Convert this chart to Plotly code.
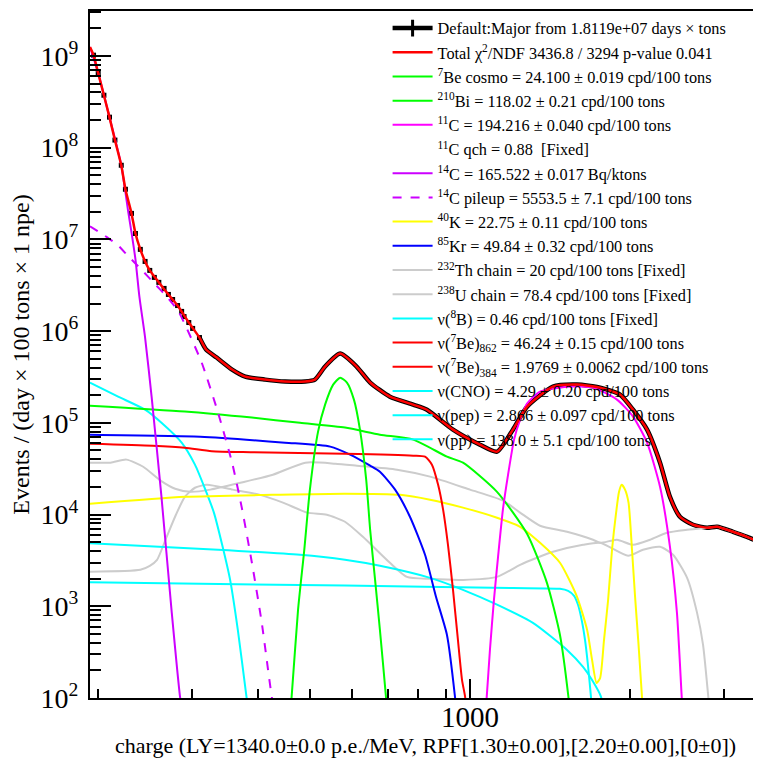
import plotly.graph_objects as go

# ---------------- data ----------------
data_sparse_x = [196, 200, 205, 210, 215, 221, 225, 231, 235, 240, 245, 250, 255, 260, 266, 271, 276, 282, 287, 290, 296, 301, 310]
data_sparse_y = [1.02e9, 6.49e8, 3.73e8, 2.15e8, 1.21e8, 6.43e7, 3.52e7, 1.92e7, 1.16e7, 7.78e6, 5.75e6, 4.59e6, 3.85e6, 3.40e6, 2.92e6, 2.51e6, 2.21e6, 1.90e6, 1.64e6, 1.44e6, 1.24e6, 1.07e6, 8.51e5]
data_band_x = [310, 319, 334, 357, 378, 412, 449, 490, 511, 534, 570, 612, 649, 707, 782, 830, 929, 1044, 1124, 1204, 1280, 1432, 1589, 1756, 1914, 2025, 2152, 2276, 2376, 2481, 2626, 2790, 2913, 3122, 3317, 3524]
data_band_y = [8.51e5, 6.30e5, 5.15e5, 3.81e5, 3.19e5, 2.96e5, 2.82e5, 2.82e5, 2.96e5, 4.11e5, 5.69e5, 4.11e5, 2.75e5, 1.93e5, 1.58e5, 1.39e5, 8.43e4, 5.78e4, 4.85e4, 8.43e4, 1.50e5, 2.48e5, 2.61e5, 2.42e5, 2.03e5, 1.39e5, 8.43e4, 3.68e4, 1.56e4, 9.46e3, 7.74e3, 7.18e3, 7.36e3, 6.49e3, 5.72e3, 4.92e3]

total_x = [193, 196, 200, 205, 210, 215, 221, 225, 231, 235, 240, 245, 250, 260, 271, 282, 296, 310, 319, 334, 357, 378, 412, 449, 490, 511, 534, 570, 612, 649, 707, 782, 830, 929, 1044, 1124, 1204, 1280, 1432, 1589, 1756, 1914, 2025, 2152, 2276, 2376, 2481, 2626, 2790, 2913, 3122, 3317, 3524]
total_y = [1.25e9, 1.02e9, 6.49e8, 3.73e8, 2.15e8, 1.21e8, 6.43e7, 3.52e7, 1.92e7, 1.16e7, 7.78e6, 5.75e6, 4.59e6, 3.40e6, 2.51e6, 1.90e6, 1.24e6, 8.51e5, 6.30e5, 5.15e5, 3.81e5, 3.19e5, 2.96e5, 2.82e5, 2.82e5, 2.96e5, 4.11e5, 5.69e5, 4.11e5, 2.75e5, 1.93e5, 1.58e5, 1.39e5, 8.43e4, 5.78e4, 4.85e4, 8.43e4, 1.50e5, 2.48e5, 2.61e5, 2.42e5, 2.03e5, 1.39e5, 8.43e4, 3.68e4, 1.56e4, 9.46e3, 7.74e3, 7.18e3, 7.36e3, 6.49e3, 5.72e3, 4.92e3]

be7cosmo_x = [458, 462, 475, 488, 500, 518, 534, 553, 570, 587, 605, 621, 638, 649, 663, 677, 695, 700]
be7cosmo_y = [60, 103, 914, 4.13e3, 1.87e4, 8.02e4, 1.58e5, 2.61e5, 3.11e5, 2.75e5, 1.79e5, 8.43e4, 2.40e4, 6.82e3, 1.94e3, 553, 103, 60]

bi210_x = [193, 291, 389, 479, 582, 677, 782, 905, 970, 1124, 1280, 1395, 1476, 1531, 1545]
bi210_y = [1.54e5, 1.33e5, 1.14e5, 1.0e5, 8.87e4, 7.43e4, 6.56e4, 4.28e4, 3.68e4, 1.77e4, 6.17e3, 1.80e3, 487, 103, 60]

c11_x = [1065, 1075, 1090, 1109, 1129, 1153, 1179, 1210, 1242, 1280, 1354, 1522, 1703, 1889, 2025, 2152, 2276, 2376, 2449, 2500, 2515]
c11_y = [60, 103, 334, 1.17e3, 3.46e3, 1.13e4, 2.72e4, 6.56e4, 1.08e5, 1.62e5, 2.19e5, 2.48e5, 2.42e5, 1.79e5, 1.17e5, 6.08e4, 2.01e4, 4.45e3, 847, 103, 60]

c14_x = [193, 200, 210, 221, 228, 231, 235, 239, 245, 252, 263, 275, 285, 288]
c14_y = [1.25e9, 6.49e8, 2.15e8, 6.43e7, 1.92e7, 1.19e7, 6.05e6, 2.39e6, 8.51e5, 1.93e5, 1.56e4, 847, 103, 70]

c14pu_x = [193, 208, 217, 228, 241, 256, 269, 283, 293, 313, 336, 357, 372, 389, 406, 424, 430]
c14pu_y = [1.39e7, 1.05e7, 8.82e6, 6.52e6, 4.70e6, 3.23e6, 2.39e6, 1.64e6, 1.09e6, 4.54e5, 1.29e5, 3.68e4, 1.22e4, 2.98e3, 659, 103, 70]

k40_x = [193, 291, 425, 582, 739, 841, 970, 1124, 1242, 1354, 1476, 1589, 1660, 1696, 1729, 1756, 1786, 1818, 1849, 1882, 1906, 1928, 1956, 1986, 2016, 2043, 2074, 2105, 2120]
k40_y = [1.31e4, 1.56e4, 1.64e4, 1.69e4, 1.64e4, 1.45e4, 1.19e4, 9.23e3, 7.36e3, 4.92e3, 2.98e3, 1.27e3, 553, 260, 146, 165, 430, 1.17e3, 4.13e3, 1.05e4, 1.77e4, 2.11e4, 1.87e4, 1.35e4, 4.13e3, 1.27e3, 379, 103, 60]

kr85_x = [193, 311, 449, 546, 595, 649, 677, 723, 771, 823, 863, 905, 937, 945]
kr85_y = [7.43e4, 7.07e4, 6.08e4, 5.50e4, 4.50e4, 3.41e4, 2.93e4, 1.87e4, 9.46e3, 3.64e3, 1.27e3, 487, 103, 60]

th232_x = [193, 240, 250, 258, 269, 280, 291, 304, 320, 358, 403, 445, 494, 538, 582, 629, 707, 761, 841, 970, 1124, 1242, 1336, 1432, 1631, 1756, 1982, 2114, 2276, 2408, 2559, 2672, 2742, 2805, 2830]
th232_y = [2.38e3, 2.50e3, 2.76e3, 3.21e3, 5.72e3, 9.95e3, 1.56e4, 1.96e4, 2.11e4, 1.87e4, 1.64e4, 1.35e4, 1.05e4, 9.95e3, 8.35e3, 5.72e3, 2.98e3, 2.09e3, 1.99e3, 1.94e3, 2.09e3, 2.83e3, 3.38e3, 3.93e3, 4.68e3, 4.92e3, 3.55e3, 4.13e3, 4.45e3, 3.64e3, 2.04e3, 847, 379, 103, 60]

u238_x = [193, 211, 226, 243, 262, 279, 298, 325, 370, 426, 490, 558, 613, 729, 841, 1000, 1153, 1242, 1354, 1522, 1703, 1756, 1889, 2025, 2180, 2346, 2559, 2790, 2913, 3122, 3317, 3524]
u238_y = [3.68e4, 3.68e4, 3.97e4, 3.32e4, 2.34e4, 1.91e4, 1.77e4, 1.87e4, 2.22e4, 2.72e4, 3.68e4, 3.59e4, 3.41e4, 3.08e4, 2.59e4, 1.87e4, 1.42e4, 1.05e4, 7.55e3, 6.49e3, 5.31e3, 4.92e3, 5.31e3, 4.68e3, 5.31e3, 6.33e3, 6.82e3, 7.18e3, 7.36e3, 6.49e3, 5.72e3, 4.92e3]

be7_862_x = [193, 253, 291, 327, 389, 582, 782, 823, 848, 871, 890, 909, 929, 949, 966, 979, 985]
be7_862_y = [5.93e4, 5.64e4, 5.36e4, 4.91e4, 4.79e4, 4.61e4, 4.39e4, 4.28e4, 3.50e4, 2.11e4, 1.13e4, 4.68e3, 1.51e3, 430, 157, 103, 60]

cno_x = [193, 336, 479, 582, 677, 841, 970, 1124, 1313, 1522, 1631, 1696, 1763, 1790]
cno_y = [4.86e3, 4.13e3, 3.64e3, 3.21e3, 2.76e3, 2.04e3, 1.51e3, 1.04e3, 659, 334, 218, 157, 103, 60]

pep_x = [193, 582, 1204, 1476, 1529, 1569, 1596, 1624, 1645, 1666, 1688, 1700]
pep_y = [1.83e3, 1.68e3, 1.58e3, 1.55e3, 1.47e3, 1.30e3, 1.04e3, 676, 430, 229, 103, 60]

pp_x = [193, 218, 245, 263, 287, 304, 318, 330, 342, 354, 366, 380, 385]
pp_y = [2.75e5, 1.93e5, 1.39e5, 1.0e5, 6.08e4, 3.50e4, 1.87e4, 1.05e4, 4.68e3, 1.94e3, 553, 103, 60]

# axis tick values / labels
x_major = [1000]
x_major_text = ["1000"]
x_minor = [200, 300, 400, 500, 600, 700, 800, 900, 2000, 3000]
y_major = [1e2, 1e3, 1e4, 1e5, 1e6, 1e7, 1e8, 1e9]
y_major_text = ["10<sup>2</sup>", "10<sup>3</sup>", "10<sup>4</sup>", "10<sup>5</sup>",
                "10<sup>6</sup>", "10<sup>7</sup>", "10<sup>8</sup>", "10<sup>9</sup>"]
y_minor = [m * d for d in [1e2, 1e3, 1e4, 1e5, 1e6, 1e7, 1e8, 1e9] for m in range(2, 10)]

# ---------------- colours ----------------
RED = "#ff0000"
GREEN = "#00ff00"
MAGENTA = "#ff00ff"
VIOLET = "#cc00ff"
YELLOW = "#ffff00"
BLUE = "#0000ff"
GRAY = "#cccccc"
CYAN = "#00ffff"
FONT = "'Liberation Serif', 'Times New Roman', serif"

fig = go.Figure()


def curve(x, y, name, color, rank, dash="solid", width=2, show=True):
    fig.add_trace(go.Scatter(
        x=x, y=y, mode="lines", name=name, legendrank=rank, showlegend=show,
        line=dict(color=color, width=width, dash=dash, shape="spline", smoothing=0.6),
    ))


# data band (dense data points drawn as a black band)
fig.add_trace(go.Scatter(
    x=data_band_x, y=data_band_y, mode="lines", showlegend=False,
    line=dict(color="black", width=4.5, shape="spline", smoothing=0.6),
))
fig.add_trace(go.Scatter(
    x=data_sparse_x, y=data_sparse_y, mode="markers", showlegend=False,
    marker=dict(symbol="square", size=5, color="black"),
))
# legend entry for the data (thick line with an error-bar cross)
fig.add_trace(go.Scatter(
    x=[None], y=[None], mode="lines+markers",
    name="Default:Major from 1.8119e+07 days × tons", legendrank=1,
    line=dict(color="black", width=4.5),
    marker=dict(symbol="line-ns-open", size=12, color="black", line=dict(width=3, color="black")),
))

curve(u238_x, u238_y, "<sup>238</sup>U chain = 78.4 cpd/100 tons [Fixed]", GRAY, 12)
curve(th232_x, th232_y, "<sup>232</sup>Th chain = 20 cpd/100 tons [Fixed]", GRAY, 11)
curve(pep_x, pep_y, "ν(pep) = 2.866 ± 0.097 cpd/100 tons", CYAN, 17)
curve(cno_x, cno_y, "ν(CNO) = 4.29 ± 0.20 cpd/100 tons", CYAN, 16)
curve(pp_x, pp_y, "ν(pp) = 138.0 ± 5.1 cpd/100 tons", CYAN, 18)
curve([None], [None], "ν(<sup>8</sup>B) = 0.46 cpd/100 tons [Fixed]", CYAN, 13)
curve(k40_x, k40_y, "<sup>40</sup>K = 22.75 ± 0.11 cpd/100 tons", YELLOW, 9)
curve(kr85_x, kr85_y, "<sup>85</sup>Kr = 49.84 ± 0.32 cpd/100 tons", BLUE, 10)
curve(be7_862_x, be7_862_y, "ν(<sup>7</sup>Be)<sub>862</sub> = 46.24 ± 0.15 cpd/100 tons", RED, 14)
curve([None], [None], "ν(<sup>7</sup>Be)<sub>384</sub> = 1.9769 ± 0.0062 cpd/100 tons", RED, 15)
curve(bi210_x, bi210_y, "<sup>210</sup>Bi = 118.02 ± 0.21 cpd/100 tons", GREEN, 4)
curve(be7cosmo_x, be7cosmo_y, "<sup>7</sup>Be cosmo = 24.100 ± 0.019 cpd/100 tons", GREEN, 3)
curve(c11_x, c11_y, "<sup>11</sup>C = 194.216 ± 0.040 cpd/100 tons", MAGENTA, 5)
curve([None], [None], "<sup>11</sup>C qch = 0.88  [Fixed]", "rgba(0,0,0,0)", 6)
curve(c14pu_x, c14pu_y, "<sup>14</sup>C pileup = 5553.5 ± 7.1 cpd/100 tons", VIOLET, 8, dash="dash")
curve(c14_x, c14_y, "<sup>14</sup>C = 165.522 ± 0.017 Bq/ktons", VIOLET, 7)
curve(total_x, total_y, "Total χ<sup>2</sup>/NDF 3436.8 / 3294 p-value 0.041", RED, 2, width=2.5)

# the page body adds an 8 px offset, so the figure is 8 px smaller than the window
fig.update_layout(
    width=753, height=752,
    margin=dict(l=82, r=0, t=3, b=62, autoexpand=False),
    paper_bgcolor="white", plot_bgcolor="white",
    font=dict(family=FONT, color="black"),
    legend=dict(
        x=0.4435, y=1.0, xanchor="left", yanchor="top",
        bgcolor="rgba(0,0,0,0)", borderwidth=0,
        font=dict(family=FONT, size=16.3, color="black"),
        tracegroupgap=0, itemwidth=40,
    ),
    xaxis=dict(
        type="log", range=[2.2856, 3.5470], automargin=False,
        tickmode="array", tickvals=x_major, ticktext=x_major_text,
        ticks="inside", ticklen=19, tickwidth=1.5, tickcolor="black",
        ticklabelstandoff=-8,
        minor=dict(tickmode="array", tickvals=x_minor, ticks="inside",
                   ticklen=9, tickwidth=1.5, tickcolor="black", showgrid=False),
        showline=True, linewidth=2, linecolor="black", mirror=True,
        showgrid=False, zeroline=False,
        tickfont=dict(family=FONT, size=29, color="black"),
        title=dict(text="charge (LY=1340.0±0.0 p.e./MeV, RPF[1.30±0.00],[2.20±0.00],[0±0])",
                   font=dict(family=FONT, size=22, color="black"), standoff=0),
    ),
    yaxis=dict(
        type="log", range=[2, 9.49], automargin=False,
        tickmode="array", tickvals=y_major, ticktext=y_major_text,
        ticks="inside", ticklen=21, tickwidth=1.5, tickcolor="black",
        ticklabelstandoff=4,
        minor=dict(tickmode="array", tickvals=y_minor, ticks="inside",
                   ticklen=11, tickwidth=1.5, tickcolor="black", showgrid=False),
        showline=True, linewidth=2, linecolor="black", mirror=False,
        showgrid=False, zeroline=False,
        tickfont=dict(family=FONT, size=28, color="black"),
        title=dict(text="Events / (day × 100 tons × 1 npe)",
                   font=dict(family=FONT, size=24, color="black"), standoff=5),
    ),
)

fig.write_html("out.html")
